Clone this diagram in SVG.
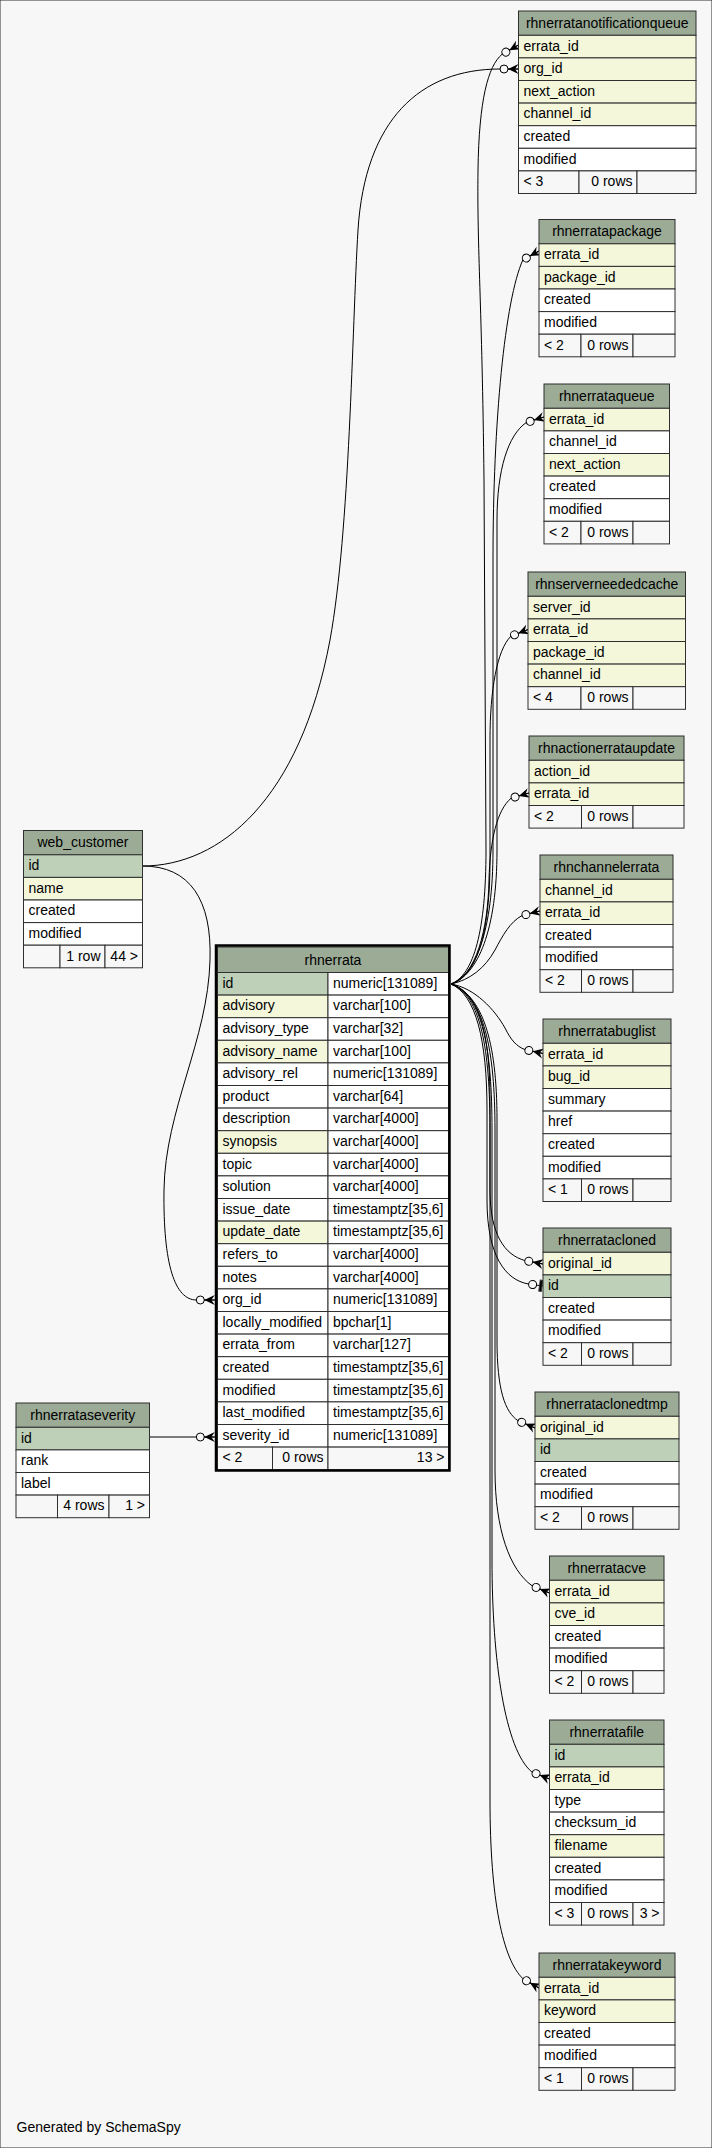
<svg xmlns="http://www.w3.org/2000/svg" width="712" height="2148" viewBox="0 0 712 2148">
<defs>
<style>
rect{stroke:#2f2f2f;stroke-width:1}
.h{fill:#9bab96}.pk{fill:#bed1b8}.ix{fill:#f4f7da}.w{fill:#ffffff}.f{fill:#f7f7f7}
text{font-family:"Liberation Sans",Arial,Helvetica,sans-serif;font-size:14px;fill:#000}
.c{text-anchor:middle}.r{text-anchor:end}
.e{fill:none;stroke:#000;stroke-width:1}
.frame{fill:none;stroke:#000;stroke-width:2.5}
</style>
<marker id="crowodot" markerUnits="userSpaceOnUse" orient="auto" markerWidth="24" markerHeight="16" viewBox="-20 -8 24 16" refX="0" refY="0" overflow="visible">
<circle cx="-14.5" cy="0" r="4" fill="#f7f7f7" stroke="#000" stroke-width="1"/>
<path d="M-10.5,0 L0,-5 L-3.5,0 L0,5 Z" fill="#000"/>
<path d="M-10.5,0 L0,0" stroke="#000" stroke-width="1"/>
</marker>
<marker id="teeodot" markerUnits="userSpaceOnUse" orient="auto" markerWidth="24" markerHeight="16" viewBox="-20 -8 24 16" refX="0" refY="0" overflow="visible">
<circle cx="-10.5" cy="0" r="4" fill="#f7f7f7" stroke="#000" stroke-width="1"/>
<rect x="-3.5" y="-5.5" width="2.5" height="11" fill="#000" stroke="none"/>
</marker>
</defs>
<rect x="0" y="0" width="712" height="2148" fill="#f7f7f7" stroke="none"/>

<g id="connectors">
<path class="e" marker-end="url(#crowodot)" d="M451,984 C474,975 486,930 486,850 L484,480 C482,300 477,250 478,170 C479,100 488,66 502,54.3 L518.5,45"/>
<path class="e" marker-end="url(#crowodot)" d="M142.5,866 C220,866 300,800 330,640 C350,530 352,330 358,230 C365,120 420,69 500,69 L518.5,69"/>
<path class="e" marker-end="url(#crowodot)" d="M451,984 C476,975 493,930 493,850 L493,560 C493,420 505,300 522.8,260 L539,251"/>
<path class="e" marker-end="url(#crowodot)" d="M451,984 C478,975 497,930 497,850 L497,520 C497,470 508,435 526.3,422.5 L544,417"/>
<path class="e" marker-end="url(#crowodot)" d="M451,984 C478,976 490,930 490,860 L490,740 C490,690 497,650 510.8,636.3 L528,629.5"/>
<path class="e" marker-end="url(#crowodot)" d="M451,984 C476,976 488,930 489,880 C490,840 497,810 511.2,798.1 L529,793"/>
<path class="e" marker-end="url(#crowodot)" d="M451,984 C470,980 485,968 495,950 C503,935 510,922 522.1,915.5 L540,911"/>
<path class="e" marker-end="url(#crowodot)" d="M451,984 C475,988 495,1010 505,1028 C511,1040 516,1046 524.9,1049.6 L543,1053.5"/>
<path class="e" marker-end="url(#crowodot)" d="M451,984 C478,992 490,1030 490,1100 L490,1190 C490,1235 505,1255 524.8,1260.5 L543,1264"/>
<path class="e" marker-end="url(#teeodot)" d="M451,984 C476,995 487,1040 487,1110 L487,1200 C487,1255 505,1280 528.5,1284 L543,1286"/>
<path class="e" marker-end="url(#crowodot)" d="M451,984 C482,995 497,1040 497,1120 L497,1340 C497,1390 505,1412 518,1420.7 L535,1428"/>
<path class="e" marker-end="url(#crowodot)" d="M451,984 C484,995 495,1050 495,1130 L495,1470 C495,1530 510,1570 532,1585.7 L549.5,1593"/>
<path class="e" marker-end="url(#crowodot)" d="M451,984 C483,995 492,1050 492,1130 L492,1560 C492,1660 505,1750 531.9,1772 L549.5,1779"/>
<path class="e" marker-end="url(#crowodot)" d="M451,984 C481,995 490,1050 490,1130 L490,1800 C490,1900 503,1960 523,1978.75 L539,1988"/>
<path class="e" marker-end="url(#crowodot)" d="M142.5,866 C190,866 212,900 210,960 C208,1040 165,1110 164,1190 C163,1265 175,1300 196.5,1300 L214.8,1300"/>
<path class="e" marker-end="url(#crowodot)" d="M149.5,1437 L214.8,1437"/>
</g>

<g id="rhnerratanotificationqueue">
<rect class="h" x="518.5" y="11" width="177.5" height="24.3"/>
<text class="c" x="607.25" y="27.6">rhnerratanotificationqueue</text>
<rect class="ix" x="518.5" y="35.3" width="177.5" height="22.6"/><text x="523.5" y="50.6">errata_id</text>
<rect class="ix" x="518.5" y="57.9" width="177.5" height="22.6"/><text x="523.5" y="73.2">org_id</text>
<rect class="ix" x="518.5" y="80.5" width="177.5" height="22.6"/><text x="523.5" y="95.8">next_action</text>
<rect class="ix" x="518.5" y="103.1" width="177.5" height="22.6"/><text x="523.5" y="118.4">channel_id</text>
<rect class="w" x="518.5" y="125.7" width="177.5" height="22.6"/><text x="523.5" y="141">created</text>
<rect class="w" x="518.5" y="148.3" width="177.5" height="22.6"/><text x="523.5" y="163.6">modified</text>
<rect class="f" x="518.5" y="170.9" width="60.5" height="22.6"/><text x="523.5" y="186.2">&lt; 3</text>
<rect class="f" x="579" y="170.9" width="58" height="22.6"/><text class="r" x="632.5" y="186.2">0 rows</text>
<rect class="f" x="637" y="170.9" width="59" height="22.6"/>
</g>

<g id="rhnerratapackage">
<rect class="h" x="539" y="219.5" width="136" height="24.3"/>
<text class="c" x="607" y="236.1">rhnerratapackage</text>
<rect class="ix" x="539" y="243.8" width="136" height="22.6"/><text x="544" y="259.1">errata_id</text>
<rect class="ix" x="539" y="266.4" width="136" height="22.6"/><text x="544" y="281.7">package_id</text>
<rect class="w" x="539" y="289" width="136" height="22.6"/><text x="544" y="304.3">created</text>
<rect class="w" x="539" y="311.6" width="136" height="22.6"/><text x="544" y="326.9">modified</text>
<rect class="f" x="539" y="334.2" width="42" height="22.6"/><text x="544" y="349.5">&lt; 2</text>
<rect class="f" x="581" y="334.2" width="52" height="22.6"/><text class="r" x="628.5" y="349.5">0 rows</text>
<rect class="f" x="633" y="334.2" width="42" height="22.6"/>
</g>

<g id="rhnerrataqueue">
<rect class="h" x="544" y="384" width="125.5" height="24.3"/>
<text class="c" x="606.75" y="400.6">rhnerrataqueue</text>
<rect class="ix" x="544" y="408.3" width="125.5" height="22.6"/><text x="549" y="423.6">errata_id</text>
<rect class="w" x="544" y="430.9" width="125.5" height="22.6"/><text x="549" y="446.2">channel_id</text>
<rect class="ix" x="544" y="453.5" width="125.5" height="22.6"/><text x="549" y="468.8">next_action</text>
<rect class="w" x="544" y="476.1" width="125.5" height="22.6"/><text x="549" y="491.4">created</text>
<rect class="w" x="544" y="498.7" width="125.5" height="22.6"/><text x="549" y="514">modified</text>
<rect class="f" x="544" y="521.3" width="37" height="22.6"/><text x="549" y="536.6">&lt; 2</text>
<rect class="f" x="581" y="521.3" width="52" height="22.6"/><text class="r" x="628.5" y="536.6">0 rows</text>
<rect class="f" x="633" y="521.3" width="36.5" height="22.6"/>
</g>

<g id="rhnserverneededcache">
<rect class="h" x="528" y="572" width="157.5" height="24.3"/>
<text class="c" x="606.75" y="588.6">rhnserverneededcache</text>
<rect class="ix" x="528" y="596.3" width="157.5" height="22.6"/><text x="533" y="611.6">server_id</text>
<rect class="ix" x="528" y="618.9" width="157.5" height="22.6"/><text x="533" y="634.2">errata_id</text>
<rect class="ix" x="528" y="641.5" width="157.5" height="22.6"/><text x="533" y="656.8">package_id</text>
<rect class="ix" x="528" y="664.1" width="157.5" height="22.6"/><text x="533" y="679.4">channel_id</text>
<rect class="f" x="528" y="686.7" width="53" height="22.6"/><text x="533" y="702">&lt; 4</text>
<rect class="f" x="581" y="686.7" width="52" height="22.6"/><text class="r" x="628.5" y="702">0 rows</text>
<rect class="f" x="633" y="686.7" width="52.5" height="22.6"/>
</g>

<g id="rhnactionerrataupdate">
<rect class="h" x="529" y="736" width="155" height="24.3"/>
<text class="c" x="606.5" y="752.6">rhnactionerrataupdate</text>
<rect class="ix" x="529" y="760.3" width="155" height="22.6"/><text x="534" y="775.6">action_id</text>
<rect class="ix" x="529" y="782.9" width="155" height="22.6"/><text x="534" y="798.2">errata_id</text>
<rect class="f" x="529" y="805.5" width="52.5" height="22.6"/><text x="534" y="820.8">&lt; 2</text>
<rect class="f" x="581.5" y="805.5" width="51.5" height="22.6"/><text class="r" x="628.5" y="820.8">0 rows</text>
<rect class="f" x="633" y="805.5" width="51" height="22.6"/>
</g>

<g id="rhnchannelerrata">
<rect class="h" x="540" y="855" width="133" height="24.3"/>
<text class="c" x="606.5" y="871.6">rhnchannelerrata</text>
<rect class="ix" x="540" y="879.3" width="133" height="22.6"/><text x="545" y="894.6">channel_id</text>
<rect class="ix" x="540" y="901.9" width="133" height="22.6"/><text x="545" y="917.2">errata_id</text>
<rect class="w" x="540" y="924.5" width="133" height="22.6"/><text x="545" y="939.8">created</text>
<rect class="w" x="540" y="947.1" width="133" height="22.6"/><text x="545" y="962.4">modified</text>
<rect class="f" x="540" y="969.7" width="41.5" height="22.6"/><text x="545" y="985">&lt; 2</text>
<rect class="f" x="581.5" y="969.7" width="51.5" height="22.6"/><text class="r" x="628.5" y="985">0 rows</text>
<rect class="f" x="633" y="969.7" width="40" height="22.6"/>
</g>

<g id="rhnerratabuglist">
<rect class="h" x="543" y="1019" width="128" height="24.3"/>
<text class="c" x="607" y="1035.6">rhnerratabuglist</text>
<rect class="ix" x="543" y="1043.3" width="128" height="22.6"/><text x="548" y="1058.6">errata_id</text>
<rect class="ix" x="543" y="1065.9" width="128" height="22.6"/><text x="548" y="1081.2">bug_id</text>
<rect class="w" x="543" y="1088.5" width="128" height="22.6"/><text x="548" y="1103.8">summary</text>
<rect class="w" x="543" y="1111.1" width="128" height="22.6"/><text x="548" y="1126.4">href</text>
<rect class="w" x="543" y="1133.7" width="128" height="22.6"/><text x="548" y="1149">created</text>
<rect class="w" x="543" y="1156.3" width="128" height="22.6"/><text x="548" y="1171.6">modified</text>
<rect class="f" x="543" y="1178.9" width="38.5" height="22.6"/><text x="548" y="1194.2">&lt; 1</text>
<rect class="f" x="581.5" y="1178.9" width="51.5" height="22.6"/><text class="r" x="628.5" y="1194.2">0 rows</text>
<rect class="f" x="633" y="1178.9" width="38" height="22.6"/>
</g>

<g id="rhnerratacloned">
<rect class="h" x="543" y="1228" width="128" height="24.3"/>
<text class="c" x="607" y="1244.6">rhnerratacloned</text>
<rect class="ix" x="543" y="1252.3" width="128" height="22.6"/><text x="548" y="1267.6">original_id</text>
<rect class="pk" x="543" y="1274.9" width="128" height="22.6"/><text x="548" y="1290.2">id</text>
<rect class="w" x="543" y="1297.5" width="128" height="22.6"/><text x="548" y="1312.8">created</text>
<rect class="w" x="543" y="1320.1" width="128" height="22.6"/><text x="548" y="1335.4">modified</text>
<rect class="f" x="543" y="1342.7" width="38.5" height="22.6"/><text x="548" y="1358">&lt; 2</text>
<rect class="f" x="581.5" y="1342.7" width="51.5" height="22.6"/><text class="r" x="628.5" y="1358">0 rows</text>
<rect class="f" x="633" y="1342.7" width="38" height="22.6"/>
</g>

<g id="rhnerrataclonedtmp">
<rect class="h" x="535" y="1392" width="144" height="24.3"/>
<text class="c" x="607" y="1408.6">rhnerrataclonedtmp</text>
<rect class="ix" x="535" y="1416.3" width="144" height="22.6"/><text x="540" y="1431.6">original_id</text>
<rect class="pk" x="535" y="1438.9" width="144" height="22.6"/><text x="540" y="1454.2">id</text>
<rect class="w" x="535" y="1461.5" width="144" height="22.6"/><text x="540" y="1476.8">created</text>
<rect class="w" x="535" y="1484.1" width="144" height="22.6"/><text x="540" y="1499.4">modified</text>
<rect class="f" x="535" y="1506.7" width="46.5" height="22.6"/><text x="540" y="1522">&lt; 2</text>
<rect class="f" x="581.5" y="1506.7" width="51.5" height="22.6"/><text class="r" x="628.5" y="1522">0 rows</text>
<rect class="f" x="633" y="1506.7" width="46" height="22.6"/>
</g>

<g id="rhnerratacve">
<rect class="h" x="549.5" y="1556" width="114.5" height="24.3"/>
<text class="c" x="606.75" y="1572.6">rhnerratacve</text>
<rect class="ix" x="549.5" y="1580.3" width="114.5" height="22.6"/><text x="554.5" y="1595.6">errata_id</text>
<rect class="ix" x="549.5" y="1602.9" width="114.5" height="22.6"/><text x="554.5" y="1618.2">cve_id</text>
<rect class="w" x="549.5" y="1625.5" width="114.5" height="22.6"/><text x="554.5" y="1640.8">created</text>
<rect class="w" x="549.5" y="1648.1" width="114.5" height="22.6"/><text x="554.5" y="1663.4">modified</text>
<rect class="f" x="549.5" y="1670.7" width="32" height="22.6"/><text x="554.5" y="1686">&lt; 2</text>
<rect class="f" x="581.5" y="1670.7" width="51.5" height="22.6"/><text class="r" x="628.5" y="1686">0 rows</text>
<rect class="f" x="633" y="1670.7" width="31" height="22.6"/>
</g>

<g id="rhnerratafile">
<rect class="h" x="549.5" y="1720" width="114.5" height="24.3"/>
<text class="c" x="606.75" y="1736.6">rhnerratafile</text>
<rect class="pk" x="549.5" y="1744.3" width="114.5" height="22.6"/><text x="554.5" y="1759.6">id</text>
<rect class="ix" x="549.5" y="1766.9" width="114.5" height="22.6"/><text x="554.5" y="1782.2">errata_id</text>
<rect class="w" x="549.5" y="1789.5" width="114.5" height="22.6"/><text x="554.5" y="1804.8">type</text>
<rect class="w" x="549.5" y="1812.1" width="114.5" height="22.6"/><text x="554.5" y="1827.4">checksum_id</text>
<rect class="ix" x="549.5" y="1834.7" width="114.5" height="22.6"/><text x="554.5" y="1850">filename</text>
<rect class="w" x="549.5" y="1857.3" width="114.5" height="22.6"/><text x="554.5" y="1872.6">created</text>
<rect class="w" x="549.5" y="1879.9" width="114.5" height="22.6"/><text x="554.5" y="1895.2">modified</text>
<rect class="f" x="549.5" y="1902.5" width="32" height="22.6"/><text x="554.5" y="1917.8">&lt; 3</text>
<rect class="f" x="581.5" y="1902.5" width="51.5" height="22.6"/><text class="r" x="628.5" y="1917.8">0 rows</text>
<rect class="f" x="633" y="1902.5" width="31" height="22.6"/><text class="r" x="659.5" y="1917.8">3 &gt;</text>
</g>

<g id="rhnerratakeyword">
<rect class="h" x="539" y="1953" width="136" height="24.3"/>
<text class="c" x="607" y="1969.6">rhnerratakeyword</text>
<rect class="ix" x="539" y="1977.3" width="136" height="22.6"/><text x="544" y="1992.6">errata_id</text>
<rect class="ix" x="539" y="1999.9" width="136" height="22.6"/><text x="544" y="2015.2">keyword</text>
<rect class="w" x="539" y="2022.5" width="136" height="22.6"/><text x="544" y="2037.8">created</text>
<rect class="w" x="539" y="2045.1" width="136" height="22.6"/><text x="544" y="2060.4">modified</text>
<rect class="f" x="539" y="2067.7" width="42.5" height="22.6"/><text x="544" y="2083">&lt; 1</text>
<rect class="f" x="581.5" y="2067.7" width="51.5" height="22.6"/><text class="r" x="628.5" y="2083">0 rows</text>
<rect class="f" x="633" y="2067.7" width="42" height="22.6"/>
</g>

<g id="web_customer">
<rect class="h" x="23.5" y="830.5" width="119" height="24.3"/>
<text class="c" x="83" y="847.1">web_customer</text>
<rect class="pk" x="23.5" y="854.8" width="119" height="22.6"/><text x="28.5" y="870.1">id</text>
<rect class="ix" x="23.5" y="877.4" width="119" height="22.6"/><text x="28.5" y="892.7">name</text>
<rect class="w" x="23.5" y="900" width="119" height="22.6"/><text x="28.5" y="915.3">created</text>
<rect class="w" x="23.5" y="922.6" width="119" height="22.6"/><text x="28.5" y="937.9">modified</text>
<rect class="f" x="23.5" y="945.2" width="36.5" height="22.6"/>
<rect class="f" x="60" y="945.2" width="45" height="22.6"/><text class="r" x="100.5" y="960.5">1 row</text>
<rect class="f" x="105" y="945.2" width="37.5" height="22.6"/><text class="r" x="138" y="960.5">44 &gt;</text>
</g>

<g id="rhnerrataseverity">
<rect class="h" x="16" y="1403" width="133.5" height="24.3"/>
<text class="c" x="82.75" y="1419.6">rhnerrataseverity</text>
<rect class="pk" x="16" y="1427.3" width="133.5" height="22.6"/><text x="21" y="1442.6">id</text>
<rect class="w" x="16" y="1449.9" width="133.5" height="22.6"/><text x="21" y="1465.2">rank</text>
<rect class="w" x="16" y="1472.5" width="133.5" height="22.6"/><text x="21" y="1487.8">label</text>
<rect class="f" x="16" y="1495.1" width="41.5" height="22.6"/>
<rect class="f" x="57.5" y="1495.1" width="51.5" height="22.6"/><text class="r" x="104.5" y="1510.4">4 rows</text>
<rect class="f" x="109" y="1495.1" width="40.5" height="22.6"/><text class="r" x="145" y="1510.4">1 &gt;</text>
</g>

<g id="rhnerrata">
<rect class="h" x="217.5" y="947" width="231" height="25.5"/>
<text class="c" x="333" y="964.5">rhnerrata</text>
<rect class="pk" x="217.5" y="972.5" width="110.5" height="22.6"/><text x="222.5" y="987.8">id</text>
<rect class="w" x="328" y="972.5" width="120.5" height="22.6"/><text x="333" y="987.8">numeric[131089]</text>
<rect class="ix" x="217.5" y="995.1" width="110.5" height="22.6"/><text x="222.5" y="1010.4">advisory</text>
<rect class="w" x="328" y="995.1" width="120.5" height="22.6"/><text x="333" y="1010.4">varchar[100]</text>
<rect class="w" x="217.5" y="1017.7" width="110.5" height="22.6"/><text x="222.5" y="1033">advisory_type</text>
<rect class="w" x="328" y="1017.7" width="120.5" height="22.6"/><text x="333" y="1033">varchar[32]</text>
<rect class="ix" x="217.5" y="1040.3" width="110.5" height="22.6"/><text x="222.5" y="1055.6">advisory_name</text>
<rect class="w" x="328" y="1040.3" width="120.5" height="22.6"/><text x="333" y="1055.6">varchar[100]</text>
<rect class="w" x="217.5" y="1062.9" width="110.5" height="22.6"/><text x="222.5" y="1078.2">advisory_rel</text>
<rect class="w" x="328" y="1062.9" width="120.5" height="22.6"/><text x="333" y="1078.2">numeric[131089]</text>
<rect class="w" x="217.5" y="1085.5" width="110.5" height="22.6"/><text x="222.5" y="1100.8">product</text>
<rect class="w" x="328" y="1085.5" width="120.5" height="22.6"/><text x="333" y="1100.8">varchar[64]</text>
<rect class="w" x="217.5" y="1108.1" width="110.5" height="22.6"/><text x="222.5" y="1123.4">description</text>
<rect class="w" x="328" y="1108.1" width="120.5" height="22.6"/><text x="333" y="1123.4">varchar[4000]</text>
<rect class="ix" x="217.5" y="1130.7" width="110.5" height="22.6"/><text x="222.5" y="1146">synopsis</text>
<rect class="w" x="328" y="1130.7" width="120.5" height="22.6"/><text x="333" y="1146">varchar[4000]</text>
<rect class="w" x="217.5" y="1153.3" width="110.5" height="22.6"/><text x="222.5" y="1168.6">topic</text>
<rect class="w" x="328" y="1153.3" width="120.5" height="22.6"/><text x="333" y="1168.6">varchar[4000]</text>
<rect class="w" x="217.5" y="1175.9" width="110.5" height="22.6"/><text x="222.5" y="1191.2">solution</text>
<rect class="w" x="328" y="1175.9" width="120.5" height="22.6"/><text x="333" y="1191.2">varchar[4000]</text>
<rect class="w" x="217.5" y="1198.5" width="110.5" height="22.6"/><text x="222.5" y="1213.8">issue_date</text>
<rect class="w" x="328" y="1198.5" width="120.5" height="22.6"/><text x="333" y="1213.8">timestamptz[35,6]</text>
<rect class="ix" x="217.5" y="1221.1" width="110.5" height="22.6"/><text x="222.5" y="1236.4">update_date</text>
<rect class="w" x="328" y="1221.1" width="120.5" height="22.6"/><text x="333" y="1236.4">timestamptz[35,6]</text>
<rect class="w" x="217.5" y="1243.7" width="110.5" height="22.6"/><text x="222.5" y="1259">refers_to</text>
<rect class="w" x="328" y="1243.7" width="120.5" height="22.6"/><text x="333" y="1259">varchar[4000]</text>
<rect class="w" x="217.5" y="1266.3" width="110.5" height="22.6"/><text x="222.5" y="1281.6">notes</text>
<rect class="w" x="328" y="1266.3" width="120.5" height="22.6"/><text x="333" y="1281.6">varchar[4000]</text>
<rect class="w" x="217.5" y="1288.9" width="110.5" height="22.6"/><text x="222.5" y="1304.2">org_id</text>
<rect class="w" x="328" y="1288.9" width="120.5" height="22.6"/><text x="333" y="1304.2">numeric[131089]</text>
<rect class="w" x="217.5" y="1311.5" width="110.5" height="22.6"/><text x="222.5" y="1326.8">locally_modified</text>
<rect class="w" x="328" y="1311.5" width="120.5" height="22.6"/><text x="333" y="1326.8">bpchar[1]</text>
<rect class="w" x="217.5" y="1334.1" width="110.5" height="22.6"/><text x="222.5" y="1349.4">errata_from</text>
<rect class="w" x="328" y="1334.1" width="120.5" height="22.6"/><text x="333" y="1349.4">varchar[127]</text>
<rect class="w" x="217.5" y="1356.7" width="110.5" height="22.6"/><text x="222.5" y="1372">created</text>
<rect class="w" x="328" y="1356.7" width="120.5" height="22.6"/><text x="333" y="1372">timestamptz[35,6]</text>
<rect class="w" x="217.5" y="1379.3" width="110.5" height="22.6"/><text x="222.5" y="1394.6">modified</text>
<rect class="w" x="328" y="1379.3" width="120.5" height="22.6"/><text x="333" y="1394.6">timestamptz[35,6]</text>
<rect class="w" x="217.5" y="1401.9" width="110.5" height="22.6"/><text x="222.5" y="1417.2">last_modified</text>
<rect class="w" x="328" y="1401.9" width="120.5" height="22.6"/><text x="333" y="1417.2">timestamptz[35,6]</text>
<rect class="w" x="217.5" y="1424.5" width="110.5" height="22.6"/><text x="222.5" y="1439.8">severity_id</text>
<rect class="w" x="328" y="1424.5" width="120.5" height="22.6"/><text x="333" y="1439.8">numeric[131089]</text>
<rect class="f" x="217.5" y="1447.1" width="55" height="22.6"/><text x="222.5" y="1462.4">&lt; 2</text>
<rect class="f" x="272.5" y="1447.1" width="55.5" height="22.6"/><text class="r" x="323.5" y="1462.4">0 rows</text>
<rect class="f" x="328" y="1447.1" width="120.5" height="22.6"/><text class="r" x="444.5" y="1462.4">13 &gt;</text>
<rect class="frame" x="216" y="945.5" width="233.5" height="525"/>
</g>

<text x="16.5" y="2132">Generated by SchemaSpy</text>
</svg>
